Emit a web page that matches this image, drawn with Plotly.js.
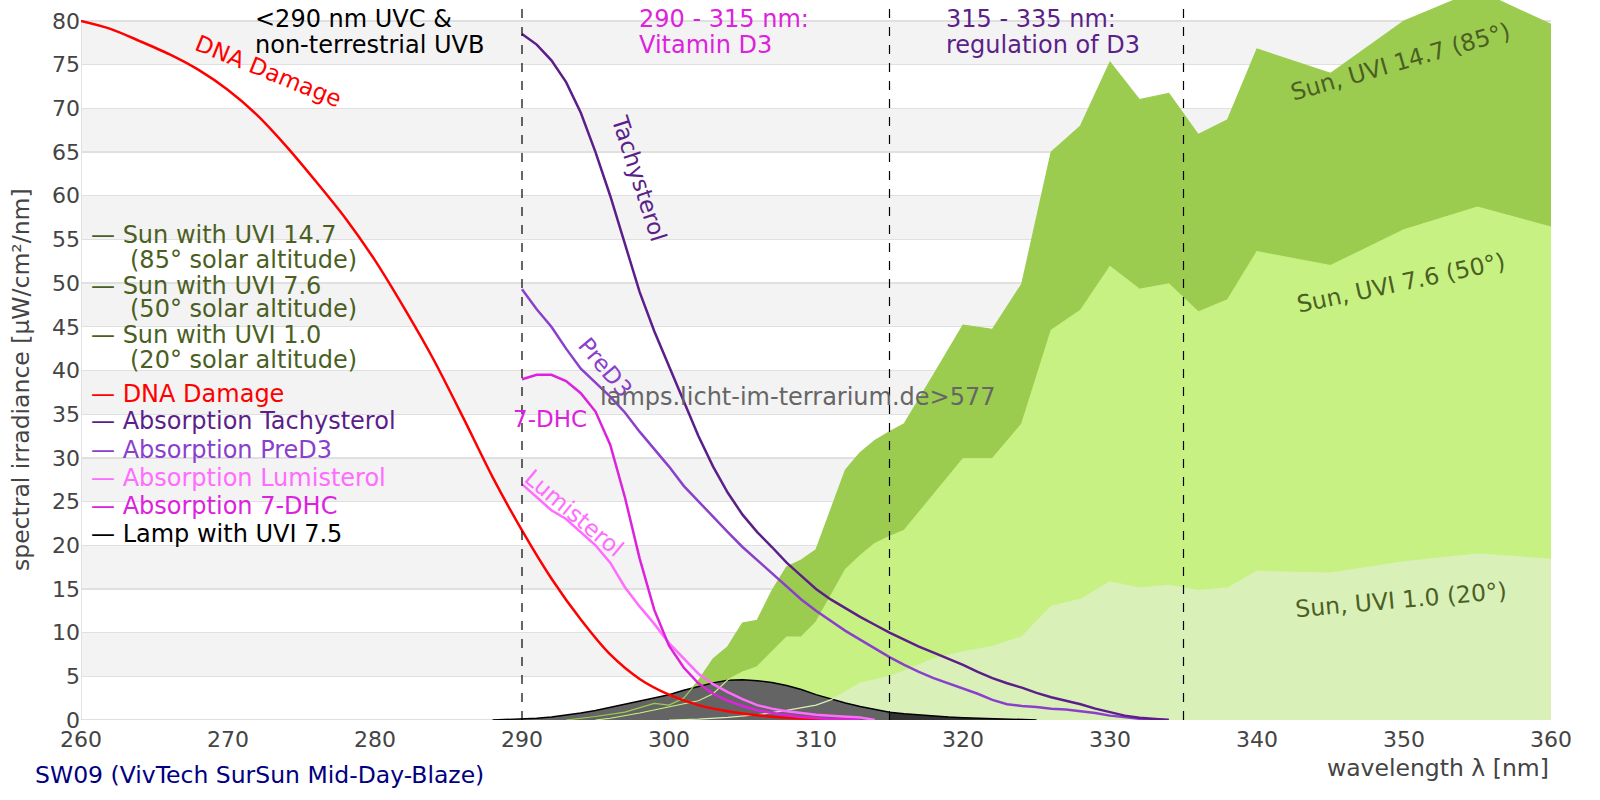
<!DOCTYPE html>
<html>
<head>
<meta charset="utf-8">
<script src="https://cdn.plot.ly/plotly-3.0.1.min.js"></script>
<style>
  html, body { margin: 0; padding: 0; background: #fff; }
  #chart { width: 1600px; height: 800px; }
</style>
</head>
<body>
<div id="chart"></div>
<script>
// ---- data (wavelength in nm, irradiance in µW/cm²/nm) ----
var dnaX = [260,262,264,266,268,270,272,274,276,278,280,282,284,286,288,290,292,294,296,298,300,302,304,306,308,310,312];
var dnaY = [80,79.1,77.7,76.2,74.4,72.1,69.2,65.6,61.6,57.4,52.6,47.1,41.2,34.6,27.8,21.7,16.2,11.5,7.5,4.7,2.9,1.7,1.0,0.55,0.25,0.1,0.03];

var tachyX = [290,291,292,293,294,295,296,297,298,299,300,301,302,303,304,305,306,307,308,309,310,311,312,313,314,315,316,317,318,319,320,321,322,323,324,325,326,327,328,329,330,331,332,333,334];
var tachyY = [78.5,77.3,75.5,73,69.5,65,60,54.5,49,44.5,40.5,36.5,32.5,29,26,23.5,21.5,19.8,18,16.5,15,13.8,12.8,11.8,10.9,10,9.2,8.4,7.7,7,6.3,5.5,4.8,4.2,3.7,3.1,2.6,2.2,1.8,1.3,0.9,0.5,0.25,0.1,0];

var pred3X = [290,291,292,293,294,295,296,297,298,299,300,301,302,303,304,305,306,307,308,309,310,311,312,313,314,315,316,317,318,319,320,321,322,323,324,325,326,327,328,329,330,331,332,333,334];
var pred3Y = [49.3,47,45,42.5,40.2,38.6,37,35.2,33,31,29,26.8,25,23.2,21.5,19.8,18.3,16.8,15.2,13.8,12.5,11.3,10.2,9.2,8.2,7.2,6.3,5.5,4.8,4.2,3.6,3.0,2.3,1.8,1.6,1.5,1.3,1.2,1.0,0.8,0.5,0.3,0.15,0.05,0];

var lumiX = [290,291,292,293,294,295,296,297,298,299,300,301,302,303,304,305,306,307,308,309,310,311,312,313,314];
var lumiY = [27,25.5,24,23,21.5,20,18,15.2,13,11,8.8,7,5.3,4.1,3.2,2.4,1.7,1.3,1.0,0.8,0.6,0.5,0.4,0.3,0];

var dhcX = [290,291,292,293,294,295,296,297,298,299,300,301,302,303,304,305,306,307,308,309,310,311,312,313];
var dhcY = [39,39.5,39.5,38.8,37.4,35.3,31.5,25.5,18.5,12.6,8.5,6.0,4.2,3.0,2.2,1.6,1.1,0.8,0.55,0.35,0.2,0.1,0.05,0];

var lampX = [288,289,290,291,292,293,294,295,296,297,298,299,300,301,302,303,304,305,306,307,308,309,310,311,312,313,314,315,316,317,318,319,320,321,322,323,324,325];
var lampY = [0,0.05,0.1,0.2,0.35,0.55,0.8,1.1,1.45,1.8,2.15,2.5,2.9,3.4,3.85,4.25,4.55,4.6,4.5,4.3,3.95,3.5,2.9,2.4,1.95,1.55,1.2,0.9,0.72,0.58,0.45,0.35,0.27,0.2,0.14,0.08,0.03,0];

var sun147X = [293,295,297,299,300,301,302,303,304,305,306,307,308,309,310,311,312,313,314,315,316,318,320,322,324,326,328,330,332,334,336,338,340,345,350,355,360];
var sun147Y = [0,0.4,0.9,1.9,1.7,2.5,4.5,7.0,8.4,11.1,11.4,14.8,17.5,18.3,19.5,24.0,28.6,30.6,32.0,33.0,33.9,39.5,45.2,44.7,49.9,65.0,68.0,75.3,71.0,71.7,67.0,68.7,76.8,74.0,80.0,83.5,79.6];

var sun76X = [295,296,298,300,302,303,304,305,306,307,308,309,310,311,312,313,314,315,316,318,320,322,324,326,328,330,332,334,336,338,340,345,350,355,360];
var sun76Y = [0,0.2,0.8,1.5,2.2,3.0,4.6,5.5,6.1,7.8,9.5,9.5,11.2,14.2,17.2,18.8,20.2,21.0,21.7,25.8,29.9,29.9,33.9,44.6,46.9,51.9,49.3,49.9,46.7,48.1,53.6,52.0,56.1,58.7,56.4];

var sun10X = [300,302,304,306,308,310,311,312,313,314,315,316,318,320,322,324,326,328,330,332,334,336,338,340,345,350,355,360];
var sun10Y = [0,0.1,0.3,0.6,1.1,1.7,2.3,3.3,4.2,4.6,5.0,5.6,7.0,7.8,8.4,9.5,13.0,13.8,15.8,15.1,15.4,14.8,15.1,17.0,16.8,18.1,19.0,18.4];

var regionEdges = [290, 315, 335];
var xTicks = [260,270,280,290,300,310,320,330,340,350,360];

var legendLabels = [
  ["— Sun with UVI 14.7", "(85° solar altitude)"],
  ["— Sun with UVI 7.6", "(50° solar altitude)"],
  ["— Sun with UVI 1.0", "(20° solar altitude)"],
  ["— DNA Damage"],
  ["— Absorption Tachysterol"],
  ["— Absorption PreD3"],
  ["— Absorption Lumisterol"],
  ["— Absorption 7-DHC"],
  ["— Lamp with UVI 7.5"]
];

// colours
var cSunDark = "#9bcc50", cSunMid = "#c7f283", cSunLight = "#daf0b9";
var cSunText = "#4b5f23";
var cDNA = "#ff0000", cTachy = "#5c1f8a", cPreD3 = "#8a40cc", cLumi = "#ff6cff", cDHC = "#dd22dd";

// plot area geometry (pixels) used to place the free texts
var L = 81, R = 49, T = 0, B = 80, PW = 1600 - L - R, PH = 800 - T - B;
function ax(p) { return (p - L) / PW; }
function ay(p) { return (PH - (p - T)) / PH; }

function fillTrace(x, y, color) {
  return { x: x, y: y, type: "scatter", mode: "lines", fill: "tozeroy",
           fillcolor: color, line: { width: 0, color: color }, hoverinfo: "skip" };
}
function lineTrace(x, y, color, width, smooth) {
  var ln = { color: color, width: width };
  if (smooth) { ln.shape = "spline"; ln.smoothing = smooth; }
  return { x: x, y: y, type: "scatter", mode: "lines", line: ln, hoverinfo: "skip" };
}

// lamp: lighter grey inside the vitamin D band, darker above 315 nm
var lampAx = [], lampAy = [], lampBx = [], lampBy = [];
for (var i = 0; i < lampX.length; i++) {
  if (lampX[i] <= 315) { lampAx.push(lampX[i]); lampAy.push(lampY[i]); }
  if (lampX[i] >= 315) { lampBx.push(lampX[i]); lampBy.push(lampY[i]); }
}

var traces = [
  fillTrace(sun147X, sun147Y, cSunDark),
  fillTrace(sun76X, sun76Y, cSunMid),
  fillTrace(sun10X, sun10Y, cSunLight),
  fillTrace(lampAx, lampAy, "#646464"),
  fillTrace(lampBx, lampBy, "#333333"),
  lineTrace(lampX, lampY, "#000000", 1.5),
  lineTrace(sun147X, sun147Y, cSunDark, 1.2),
  lineTrace(sun76X, sun76Y, cSunMid, 1.2),
  lineTrace(sun10X, sun10Y, cSunLight, 1.2),
  lineTrace(dnaX, dnaY, cDNA, 2.5, 0.8),
  lineTrace(lumiX, lumiY, cLumi, 2.5),
  lineTrace(dhcX, dhcY, cDHC, 2.5),
  lineTrace(pred3X, pred3Y, cPreD3, 2.5),
  lineTrace(tachyX, tachyY, cTachy, 2.5)
];

// alternating grey bands and the dashed region markers
var shapes = [];
for (var b = 5; b < 80; b += 10) {
  shapes.push({ type: "rect", layer: "below", xref: "paper", yref: "y",
                x0: 0, x1: 1, y0: b, y1: b + 5, fillcolor: "#f3f3f3", line: { width: 0 } });
}
regionEdges.forEach(function (e) {
  shapes.push({ type: "line", xref: "x", yref: "paper", x0: e, x1: e, y0: 0, y1: 1,
                line: { color: "#000", width: 1.2, dash: "dash" } });
});
shapes.push({ type: "line", layer: "below", xref: "x", yref: "y", x0: 260, x1: 260, y0: 0, y1: 80,
              line: { color: "#d6d6d6", width: 1.3 } });
shapes.push({ type: "line", layer: "below", xref: "x", yref: "y", x0: 260, x1: 360, y0: 0, y1: 0,
              line: { color: "#d6d6d6", width: 1.3 } });

var F = "DejaVu Sans, sans-serif";
function txt(text, x, y, color, size, opts) {
  var a = { text: text, xref: "paper", yref: "paper", x: ax(x), y: ay(y),
            xanchor: "left", yanchor: "middle", showarrow: false,
            font: { family: F, size: size, color: color } };
  for (var k in opts) a[k] = opts[k];
  return a;
}

var legendColors = [cSunText, cSunText, cSunText, cDNA, cTachy, cPreD3, cLumi, cDHC, "#000"];
var legendRows = [[235, 260], [286, 309], [335, 360], [394], [421], [450], [478], [506], [534]];

var annotations = [];
legendLabels.forEach(function (lab, i) {
  annotations.push(txt(lab[0], 89, legendRows[i][0], legendColors[i], 24));
  if (lab[1]) annotations.push(txt(lab[1], 128, legendRows[i][1], legendColors[i], 24));
});

annotations.push(
  txt("&lt;290 nm UVC &amp;", 253, 19, "#000", 24),
  txt("non-terrestrial UVB", 253, 44.5, "#000", 24),
  txt("290 - 315 nm:", 637, 19, cDHC, 24),
  txt("Vitamin D3", 637, 44.5, cDHC, 24),
  txt("315 - 335 nm:", 944, 19, cTachy, 24),
  txt("regulation of D3", 944, 44.5, cTachy, 24),

  txt("DNA Damage", 268, 71, cDNA, 23, { xanchor: "center", textangle: 22 }),
  txt("Tachysterol", 639, 178, cTachy, 23, { xanchor: "center", textangle: 72 }),
  txt("PreD3", 605, 367, cPreD3, 23, { xanchor: "center", textangle: 50 }),
  txt("7-DHC", 550, 419, cDHC, 23, { xanchor: "center" }),
  txt("Lumisterol", 574, 513, cLumi, 23, { xanchor: "center", textangle: 40 }),

  txt("Sun, UVI 14.7 (85°)", 1400, 62, cSunText, 23.5, { xanchor: "center", textangle: -16 }),
  txt("Sun, UVI 7.6 (50°)", 1401, 283, cSunText, 23.5, { xanchor: "center", textangle: -12 }),
  txt("Sun, UVI 1.0 (20°)", 1401, 600, cSunText, 23.5, { xanchor: "center", textangle: -5 }),

  txt("lamps.licht-im-terrarium.de&gt;577", 798, 397, "#666666", 24, { xanchor: "center" }),

  txt("spectral irradiance [µW/cm²/nm]", 21, 380, "#444", 23.5, { xanchor: "center", textangle: -90 }),
  txt("wavelength λ [nm]", 1551, 768, "#444", 23.5, { xanchor: "right" }),
  txt("SW09 (VivTech SurSun Mid-Day-Blaze)", 33, 775, "#000080", 23.5)
);

var layout = {
  width: 1600, height: 800,
  margin: { l: L, r: R, t: T, b: B },
  paper_bgcolor: "#fff", plot_bgcolor: "#fff",
  showlegend: false,
  font: { family: F },
  xaxis: {
    range: [260, 360], tickvals: xTicks, ticks: "", showgrid: false, zeroline: false,
    showline: false, ticklabelstandoff: 4,
    tickfont: { family: F, size: 22, color: "#444" }, fixedrange: true
  },
  yaxis: {
    range: [0, 80 + 21 / 8.74], dtick: 5, tick0: 0, ticks: "", zeroline: false, showline: false,
    gridcolor: "#e0e0e0", gridwidth: 1.3,
    tickfont: { family: F, size: 22, color: "#444" }, fixedrange: true
  },
  shapes: shapes,
  annotations: annotations
};

Plotly.newPlot("chart", traces, layout, { displayModeBar: false, staticPlot: true });
</script>
</body>
</html>
